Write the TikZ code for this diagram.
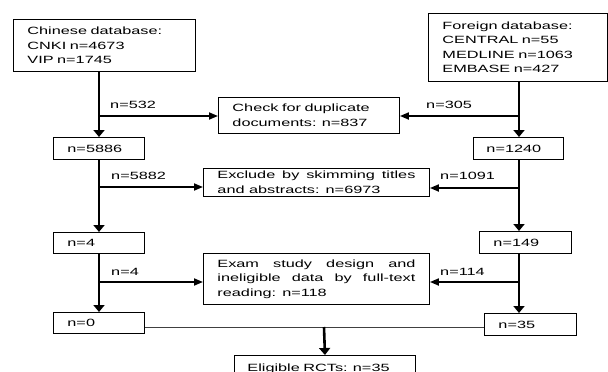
\documentclass[tikz,border=0pt]{standalone}
\usepackage{fontspec}
\setmainfont[FakeStretch=1.55]{Liberation Sans}
\usetikzlibrary{arrows.meta}
\begin{document}
\begin{tikzpicture}[x=1pt,y=-1pt,
  font=\fontsize{10.5}{14.5}\selectfont,
  box/.style={draw=black, line width=0.9pt, anchor=north west, inner xsep=14pt, inner ysep=0pt, align=left},
  jbox/.style={box, align=justify},
  lab/.style={anchor=base west, inner sep=0pt},
  varrow/.style={line width=2.6pt, -{Triangle[length=7pt,width=11pt]}},
  harrow/.style={line width=1.8pt, -{Triangle[length=9pt,width=7pt]}},
  thinline/.style={line width=0.9pt, draw=black!75}]
\clip (0,0) rectangle (608,372);
% main boxes
\node[box, minimum width=182pt, minimum height=52pt, text width=154pt] (chn) at (13,19)
  {Chinese database:\\CNKI n=4673\\VIP n=1745};
\node[box, minimum width=179pt, minimum height=68pt, text width=151pt] (frn) at (428,13)
  {Foreign database:\\CENTRAL n=55\\MEDLINE n=1063\\EMBASE n=427};
\node[box, minimum width=181pt, minimum height=36pt, text width=153pt] (chk) at (218,97)
  {Check for duplicate\\documents: n=837};
\node[jbox, minimum width=226pt, minimum height=28pt, text width=198pt] (exc) at (203,168)
  {Exclude by skimming titles\linebreak and abstracts: n=6973};
\node[jbox, minimum width=226pt, minimum height=51pt, text width=198pt] (exm) at (203,253)
  {Exam study design and\linebreak ineligible data by full-text\linebreak reading: n=118};
\node[box, minimum width=181pt, minimum height=26pt, text width=155pt, inner xsep=13pt] (elg) at (234,355)
  {Eligible RCTs: n=35};
% count boxes
\node[box, minimum width=91pt, minimum height=22pt, text width=63pt] (c5886) at (53,137) {n=5886};
\node[box, minimum width=91pt, minimum height=21pt, text width=63pt] (c4) at (53,232) {n=4};
\node[box, minimum width=91pt, minimum height=21pt, text width=63pt] (c0) at (53,312) {n=0};
\node[box, minimum width=90pt, minimum height=22pt, text width=64pt, inner xsep=13pt] (c1240) at (473,137) {n=1240};
\node[box, minimum width=92pt, minimum height=22pt, text width=64pt] (c149) at (479,231) {n=149};
\node[box, minimum width=92pt, minimum height=22pt, text width=64pt] (c35) at (484,313) {n=35};
% labels
\node[lab] (l532) at (110,108) {n=532};
\node[lab] (l305) at (426,108) {n=305};
\node[lab] (l5882) at (111,179) {n=5882};
\node[lab] (l1091) at (440,179) {n=1091};
\node[lab] (l4) at (111,275) {n=4};
\node[lab] (l114) at (440,275) {n=114};
% guide coordinates
\coordinate (L) at (99,0);
\coordinate (R) at (519,0);
\coordinate (bl1) at (99,116);
\coordinate (bl2) at (99,187);
\coordinate (bl3) at (99,282);
\coordinate (br1) at (519,116);
\coordinate (br2) at (519,188);
\coordinate (br3) at (519,282);
\coordinate (j) at (324,327);
% left column
\draw[varrow] (L |- chn.south) -- (L |- c5886.north);
\draw[varrow] (L |- c5886.south) -- (L |- c4.north);
\draw[varrow] (L |- c4.south) -- (L |- c0.north);
\draw[harrow] (bl1) -- (bl1 -| chk.west);
\draw[harrow] (bl2) -- (bl2 -| exc.west);
\draw[harrow] (bl3) -- (bl3 -| exm.west);
% right column
\draw[varrow] (R |- frn.south) -- (R |- c1240.north);
\draw[varrow] (R |- c1240.south) -- (R |- c149.north);
\draw[varrow] (R |- c149.south) -- (R |- c35.north);
\draw[harrow] (br1) -- (br1 -| chk.east);
\draw[harrow] (br2) -- (br2 -| exc.east);
\draw[harrow] (br3) -- (br3 -| exm.east);
% merge
\draw[thinline] (j -| c0.east) -- (j -| c35.west);
\draw[varrow] (j) -- (elg.north);
\end{tikzpicture}
\end{document}
